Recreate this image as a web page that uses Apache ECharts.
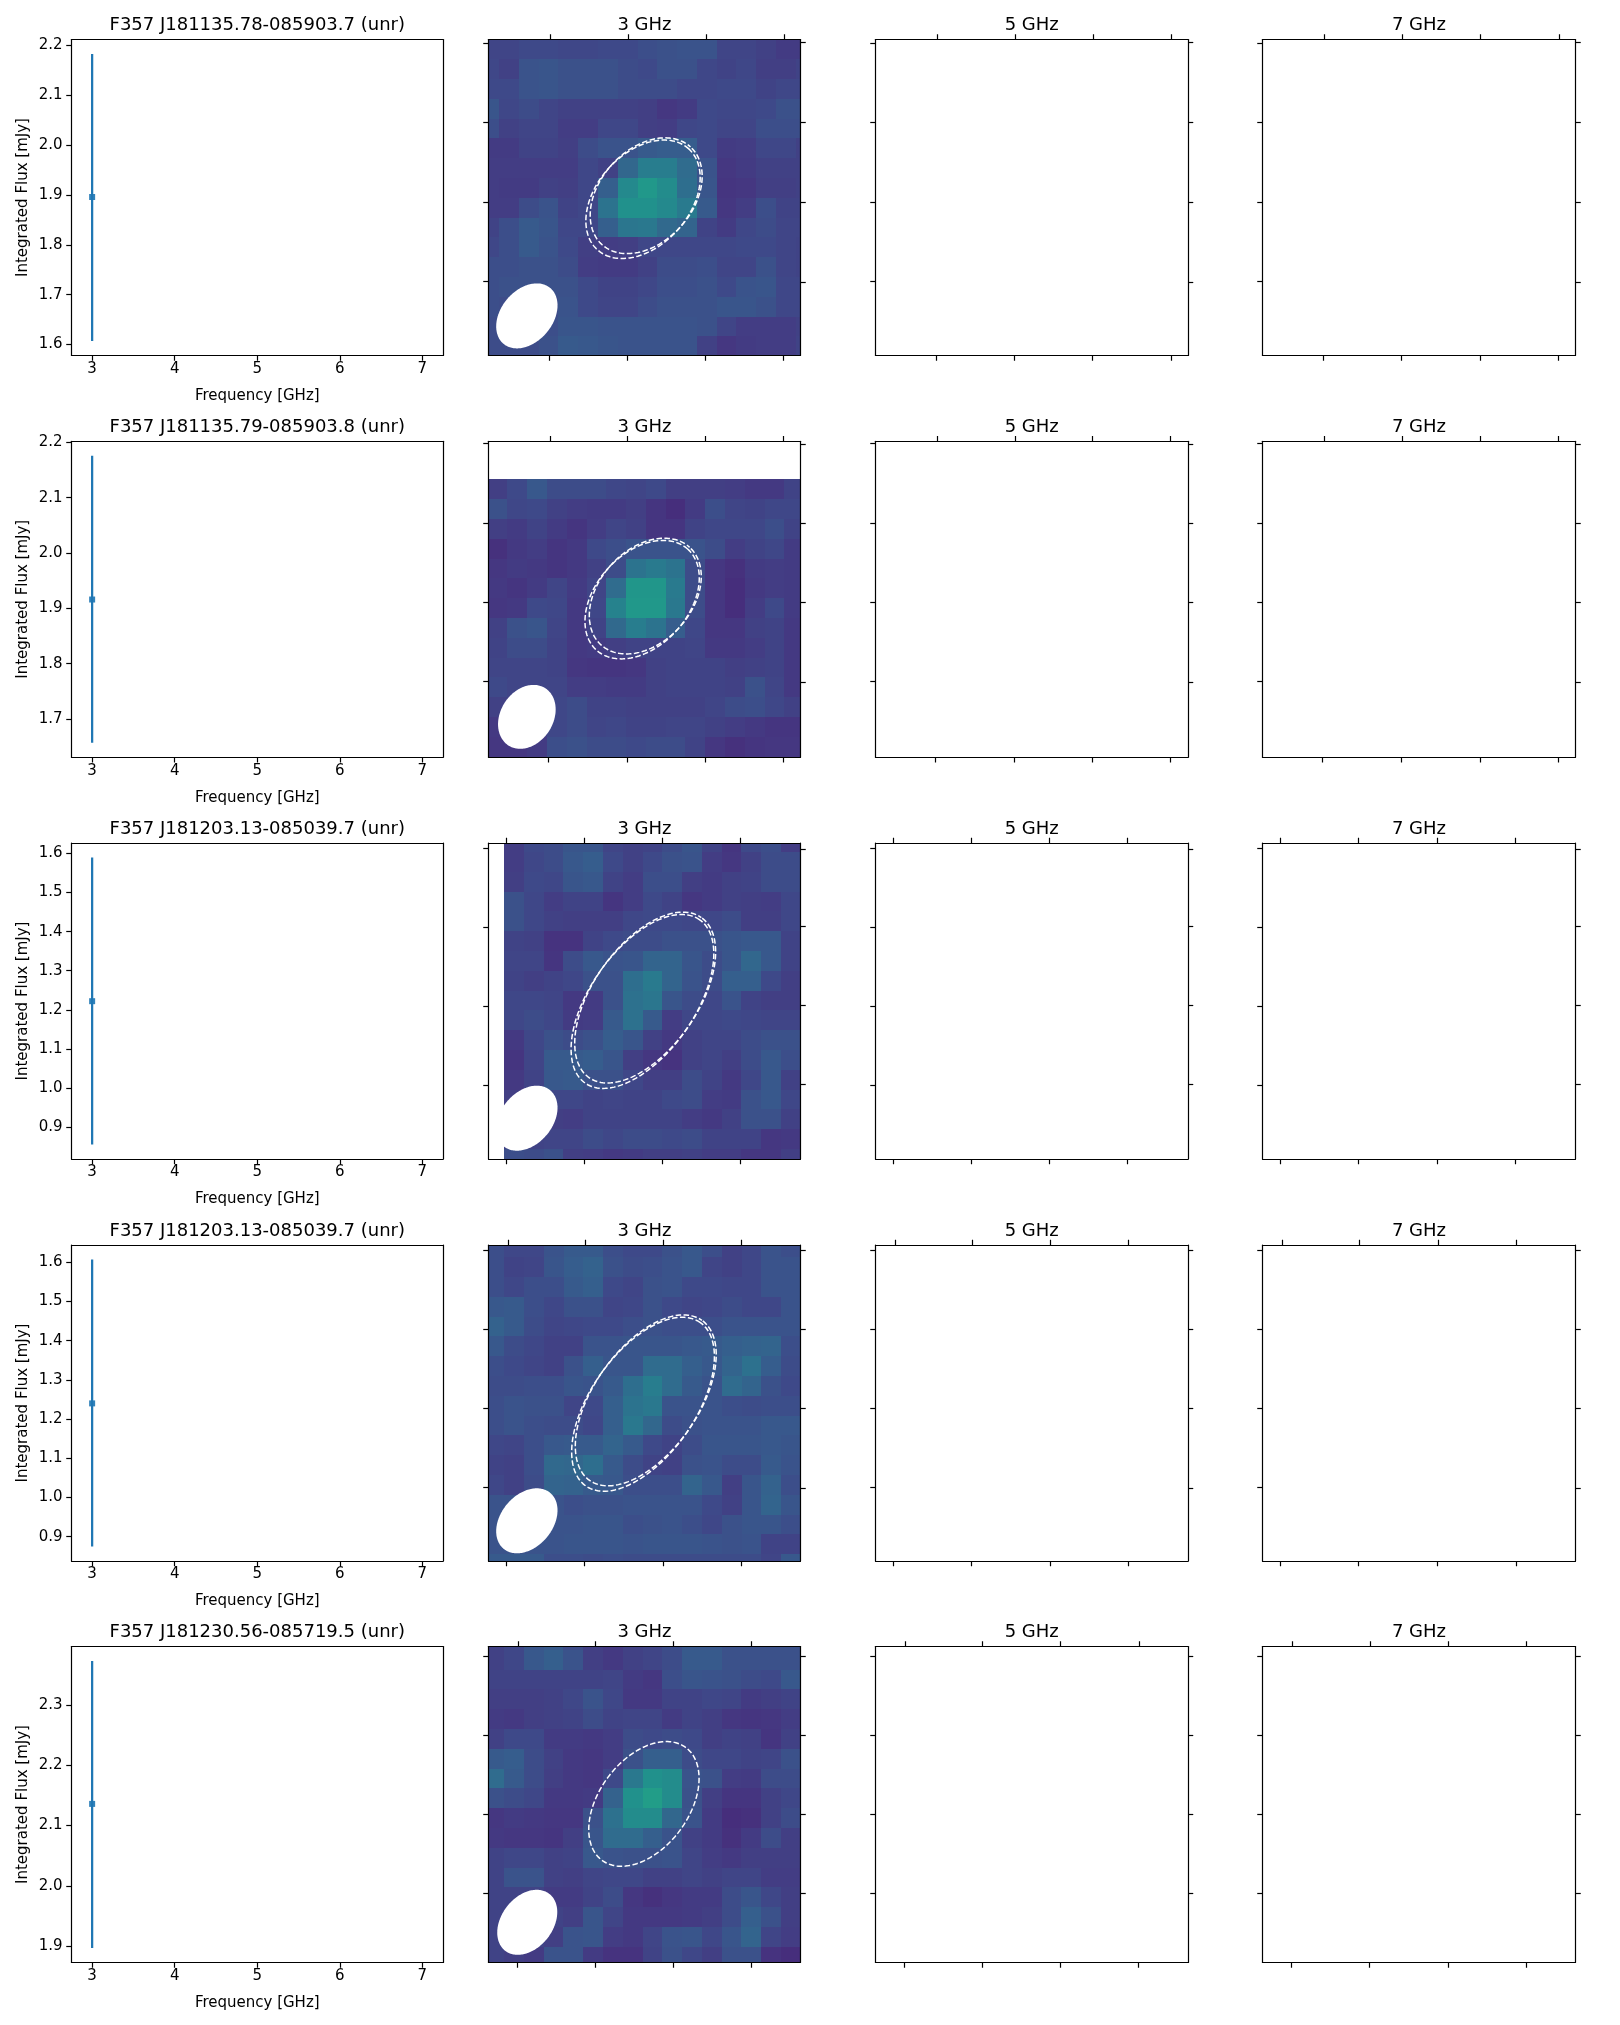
<!DOCTYPE html>
<html><head><meta charset="utf-8">
<style>html,body{margin:0;padding:0;background:#fff}#c{width:1620px;height:2025px}</style>
<script src="https://cdn.jsdelivr.net/npm/echarts@6/dist/echarts.min.js"></script>
</head><body><div id="c"></div>
<script>
const sourceTitles = ['F357 J181135.78-085903.7 (unr)','F357 J181135.79-085903.8 (unr)','F357 J181203.13-085039.7 (unr)','F357 J181203.13-085039.7 (unr)','F357 J181230.56-085719.5 (unr)'];
const bandTitles = ['3 GHz','5 GHz','7 GHz'];
const frequency = 3;
const fluxValue = [1.896,1.916,1.222,1.240,2.136];
const fluxLow   = [1.607,1.657,0.855,0.875,1.897];
const fluxHigh  = [2.183,2.176,1.590,1.607,2.373];
const yLimLow   = [1.578,1.631,0.818,0.838,1.873];
const yLimHigh  = [2.212,2.202,1.627,1.644,2.397];
const yTickLabels = [[1.6,1.7,1.8,1.9,2.0,2.1,2.2],[1.7,1.8,1.9,2.0,2.1,2.2],[0.9,1.0,1.1,1.2,1.3,1.4,1.5,1.6],[0.9,1.0,1.1,1.2,1.3,1.4,1.5,1.6],[1.9,2.0,2.1,2.2,2.3]];
const xTickLabels = [3,4,5,6,7];

// cut-out images, brightness estimate, top row first
const image1 = [
[19,19,21,21,20,20,21,21,23,24,25,25,19,19,17,14,14],
[20,17,25,26,24,24,24,22,21,24,24,20,18,20,16,16,18],
[21,21,25,26,24,24,24,22,22,22,20,20,21,21,18,20,20],
[26,20,22,19,17,17,17,17,16,12,14,21,20,20,21,24,24],
[23,17,19,19,15,15,20,20,16,15,20,21,19,19,23,23,23],
[14,14,18,18,16,22,25,25,28,29,29,21,14,15,20,20,17],
[15,15,15,15,15,20,17,33,42,42,35,25,12,14,17,17,17],
[15,14,14,17,16,20,30,47,53,48,36,26,11,12,16,16,17],
[15,15,22,25,18,20,38,50,50,47,41,28,12,15,23,18,18],
[18,23,28,26,20,20,30,39,40,34,32,18,14,20,22,19,19],
[20,23,28,25,21,16,15,16,20,20,20,20,20,21,21,19,18],
[23,23,24,24,22,15,14,14,17,22,22,23,19,19,24,19,18],
[23,24,24,24,24,21,18,18,20,23,23,24,21,25,26,20,20],
[23,22,22,22,25,21,19,19,22,24,24,24,26,26,24,20,20],
[22,22,22,23,26,26,25,25,25,25,25,24,19,15,15,15,17],
[22,22,22,24,28,27,26,25,25,25,25,17,12,14,15,15,18]];
const image2 = [
[16,21,27,22,22,22,20,19,21,16,16,16,15,13,13,18],
[24,20,21,17,15,14,14,16,11,8,14,23,19,18,20,20],
[16,14,18,14,11,15,19,17,11,11,18,20,20,20,23,18],
[9,13,15,11,13,21,23,25,25,25,25,22,15,18,20,14],
[12,14,13,11,13,17,22,38,41,38,22,12,9,14,15,14],
[13,11,14,19,14,19,35,52,52,41,22,12,8,13,15,14],
[12,13,21,20,13,20,44,53,53,40,22,12,8,15,21,14],
[17,24,26,19,13,18,34,42,38,29,20,12,12,17,18,13],
[18,22,22,18,13,14,16,18,18,18,19,13,13,15,18,13],
[19,19,19,18,12,11,11,12,17,18,18,18,16,17,18,13],
[21,19,19,19,15,15,14,14,17,18,18,18,17,24,19,13],
[17,17,17,20,22,18,18,17,17,17,17,19,22,23,20,17],
[13,15,17,20,22,19,20,18,18,19,19,17,15,13,11,11],
[12,12,14,23,24,22,22,21,22,22,18,12,9,11,12,12]];
const image3 = [
[15,21,22,26,26,19,17,18,22,26,18,11,21,23,15],
[15,20,22,27,29,21,17,21,24,25,15,12,17,22,22],
[16,21,20,26,27,18,15,23,23,16,14,17,18,22,22],
[24,20,15,18,18,11,15,21,18,12,14,17,16,15,20],
[24,20,17,16,16,16,20,21,21,20,20,22,16,16,20],
[18,17,10,10,18,21,22,22,24,24,24,26,27,27,18],
[19,19,11,22,27,25,26,32,32,26,22,26,33,27,18],
[18,16,18,20,24,24,36,41,32,25,22,30,30,21,16],
[20,20,19,13,14,24,37,39,26,22,20,25,18,16,16],
[20,22,20,14,15,28,37,28,15,20,20,21,20,19,19],
[13,20,24,22,24,29,26,17,13,17,19,19,22,24,24],
[11,19,28,28,29,26,16,12,10,17,19,16,22,27,23],
[13,18,27,28,24,24,20,16,16,22,18,13,20,27,17],
[16,20,20,20,18,19,18,18,21,22,15,14,24,27,20],
[18,16,16,15,18,18,18,18,18,15,13,17,24,24,17],
[18,18,19,19,22,20,22,22,21,22,18,18,18,12,13],
[23,22,24,16,15,13,14,16,16,17,15,15,12,12,16]];
const image4 = [
[23,20,20,25,28,28,23,21,21,24,27,23,17,20,25,23],
[23,18,19,26,29,31,24,22,23,25,27,19,17,20,25,25],
[23,20,23,23,28,30,21,19,24,25,21,21,20,20,25,25],
[27,28,23,20,24,24,19,20,24,21,19,20,22,20,20,25],
[31,28,22,19,20,21,21,23,24,23,23,23,25,25,25,25],
[27,22,20,17,17,25,25,26,26,26,27,28,30,31,32,23],
[23,21,19,17,24,30,26,26,35,35,30,27,32,37,29,22],
[22,22,23,23,26,25,28,36,42,35,28,25,35,32,24,21],
[23,25,24,24,19,21,30,38,40,25,25,25,23,22,23,23],
[23,25,23,22,22,20,30,40,33,22,24,25,25,25,27,27],
[20,19,23,27,28,28,32,28,21,18,22,26,26,26,27,26],
[18,17,23,34,33,36,28,22,18,17,24,25,22,22,28,25],
[20,17,22,32,31,28,27,23,23,23,32,27,16,26,31,23],
[25,25,25,25,23,24,24,25,25,25,25,21,17,26,32,26],
[25,25,24,25,25,26,26,23,24,25,23,20,24,26,26,23],
[25,25,25,25,26,26,26,25,26,26,26,25,24,25,18,18],
[28,28,28,23,23,22,23,22,22,22,22,22,22,22,19,27]];
const image5 = [
[17,20,26,28,22,16,13,17,19,23,27,27,24,24,24,24],
[17,20,27,30,25,16,13,17,19,22,28,28,24,24,24,24],
[18,18,18,18,18,18,19,14,12,23,26,25,24,22,21,27],
[16,16,16,17,20,25,20,13,13,18,18,20,19,14,16,18],
[14,13,16,17,18,22,18,19,19,14,18,16,12,11,12,15],
[17,21,21,14,14,13,15,22,21,22,21,16,18,17,11,17],
[28,29,22,17,13,12,15,24,30,30,22,20,20,18,19,24],
[35,28,22,16,13,12,21,40,50,48,25,24,15,14,22,22],
[24,22,20,13,13,14,31,50,55,48,24,16,11,11,17,20],
[12,14,13,12,12,24,37,48,48,33,25,14,8,9,17,22],
[13,12,12,11,16,26,35,35,30,25,17,14,9,14,22,16],
[18,20,20,17,18,27,25,24,24,25,19,15,13,16,16,16],
[18,25,25,17,16,19,20,20,17,17,19,17,19,19,15,15],
[18,18,18,14,14,18,22,12,9,12,14,14,22,26,20,16],
[18,18,18,18,16,26,19,13,13,13,14,16,22,30,24,16],
[18,18,19,16,25,26,15,13,19,25,26,20,26,32,19,15],
[18,16,14,25,25,14,10,10,18,24,20,16,24,24,10,8]];
const images = [image1,image2,image3,image4,image5];
const imageColStart = [-0.46,-0.04,0.79,-0.2,-0.21];
const imageRowStart = [0,1.93,-0.545,-0.38,-0.83];

// source apertures and beams: centre x, centre y, semi-major, semi-minor, angle (image cells)
const apertures = [
 [[7.815,8.07,3.44,2.34,47.7],[7.975,7.89,3.33,2.34,47.7]],
 [[7.77,8.00,3.44,2.34,47.7],[7.93,7.82,3.33,2.34,47.7]],
 [[7.786,8.003,5.04,2.63,54.9],[7.924,7.807,4.94,2.63,54.9]],
 [[7.816,8.043,5.04,2.63,54.9],[7.954,7.847,4.94,2.63,54.9]],
 [[7.86,7.95,3.55,2.26,53.3]]];
const beams = [[1.94,13.96,1.84,1.31,50],[1.94,13.92,1.72,1.33,57],[1.94,13.90,1.84,1.31,50],[1.94,13.93,1.84,1.31,50],[1.96,13.93,1.82,1.30,52]];

const ticksTop    = [[3.13,7.07,11.0,14.95],[3.10,7.04,10.96,14.9],[0.91,4.85,8.79,12.73],[0.98,4.90,8.84,12.78],[1.48,5.41,9.35,13.30]];
const ticksBottom = [[3.08,7.02,10.96,14.93],[3.03,7.00,10.96,14.9],[0.91,4.85,8.79,12.73],[0.91,4.85,8.82,12.78],[1.46,5.40,9.34,13.28]];
const ticksLeft   = [[0.17,4.19,8.20,12.2],[0.12,4.12,8.11,12.12],[0.25,4.26,8.25,12.24],[0.27,4.26,8.25,12.24],[0.47,4.48,8.45,12.46]];
const ticksRight  = [[0.15,4.19,8.21,12.24],[0.13,4.14,8.15,12.15],[0.30,4.22,8.20,12.19],[0.27,4.26,8.25,12.29],[0.47,4.48,8.45,12.46]];

// colour ramp: violet through blue to teal and on along viridis
const imageRamp = ['#471c6e','#46337f','#3f4788','#355f8d','#2a788e','#21918c','#22a884','#44bf70','#7ad151','#bddf26','#fde725'];

const FONT = '"DejaVu Sans"';
const colLeft = [71.5,488.5,875.5,1262.5];
const colWidth = [371.5,312,312.5,313];
const rowTop = [39.5,441.25,843,1245,1646.5];
const rowHeight = 316;
const imgW = 15.78, imgH = 15.96;
const DASH = [5.55,2.4];
const spine = {show:true,onZero:false,lineStyle:{color:'#000',width:1.2}};
const tickStyle = {lineStyle:{color:'#000',width:1.2},length:5.25,inside:false};

const grids=[],xAxes=[],yAxes=[],series=[],titles=[],heatSeries=[];

function plainAxis(gridIndex,position,min,max,values){
  return {type:'value',gridIndex,position,min,max,z:5,silent:true,splitLine:{show:false},
    axisLine:spine,axisLabel:{show:false},
    axisTick:values?Object.assign({show:true,customValues:values},tickStyle):{show:false}};
}
function ellipsePoints(api,p){
  const pts=[],t=p[4]*Math.PI/180;
  for(let k=0;k<=180;k++){
    const u=k/180*2*Math.PI,ca=p[2]*Math.cos(u),cb=p[3]*Math.sin(u);
    pts.push(api.coord([p[0]+ca*Math.cos(t)-cb*Math.sin(t),p[1]-ca*Math.sin(t)-cb*Math.cos(t)]));
  }
  return pts;
}
for(let r=0;r<5;r++){
  for(let c=0;c<4;c++){
    const g=grids.length;
    grids.push({left:colLeft[c],top:rowTop[r],width:colWidth[c],height:rowHeight,containLabel:false});
    titles.push({text:c===0?sourceTitles[r]:bandTitles[c-1],left:colLeft[c]+colWidth[c]/2,top:rowTop[r]-23,padding:0,textAlign:'center',
      textStyle:{fontFamily:FONT,fontSize:18,fontWeight:'normal',color:'#000'}});
    if(c===0){
      xAxes.push(Object.assign(plainAxis(g,'bottom',2.75,7.25,xTickLabels),{
        name:'Frequency [GHz]',nameLocation:'middle',nameGap:33,nameTextStyle:{fontFamily:FONT,fontSize:15,color:'#000'},
        axisLabel:{show:true,customValues:xTickLabels,formatter:v=>String(v),margin:6,fontFamily:FONT,fontSize:15,color:'#000'}}));
      xAxes.push(plainAxis(g,'top',2.75,7.25,null));
      yAxes.push(Object.assign(plainAxis(g,'left',yLimLow[r],yLimHigh[r],yTickLabels[r]),{
        name:'Integrated Flux [mJy]',nameLocation:'middle',nameGap:41,nameTextStyle:{fontFamily:FONT,fontSize:15,color:'#000'},
        axisLabel:{show:true,customValues:yTickLabels[r],formatter:v=>v.toFixed(1),margin:9,padding:[2,0,0,0],fontFamily:FONT,fontSize:15,color:'#000'}}));
      yAxes.push(plainAxis(g,'right',yLimLow[r],yLimHigh[r],null));
      const xi=xAxes.length-2,yi=yAxes.length-2;
      series.push({type:'custom',xAxisIndex:xi,yAxisIndex:yi,silent:true,z:3,
        data:[[frequency,fluxLow[r],fluxHigh[r]]],encode:{x:0,y:[1,2]},
        renderItem:(p,api)=>{const a=api.coord([api.value(0),api.value(1)]),b=api.coord([api.value(0),api.value(2)]);
          return {type:'line',shape:{x1:a[0],y1:a[1],x2:b[0],y2:b[1]},style:{stroke:'#1f77b4',lineWidth:2.25}};}});
      series.push({type:'scatter',xAxisIndex:xi,yAxisIndex:yi,silent:true,z:4,symbol:'rect',symbolSize:6,
        itemStyle:{color:'#1f77b4',opacity:0.92},data:[[frequency,fluxValue[r]]]});
    } else {
      xAxes.push(plainAxis(g,'bottom',0,imgW,ticksBottom[r]));
      xAxes.push(plainAxis(g,'top',0,imgW,ticksTop[r]));
      yAxes.push(Object.assign(plainAxis(g,'left',0,imgH,ticksLeft[r]),{inverse:true}));
      yAxes.push(Object.assign(plainAxis(g,'right',0,imgH,ticksRight[r]),{inverse:true}));
    }
    if(c===1){
      const xi=xAxes.length-2,yi=yAxes.length-2;
      const cells=[];
      images[r].forEach((row,j)=>row.forEach((v,i)=>cells.push([imageColStart[r]+i,imageRowStart[r]+j,v])));
      heatSeries.push(series.length);
      series.push({type:'custom',xAxisIndex:xi,yAxisIndex:yi,silent:true,clip:true,z:2,data:cells,
        encode:{x:0,y:1},dimensions:['x','y','v'],
        renderItem:(p,api)=>{
          const a=api.coord([api.value(0),api.value(1)]),b=api.coord([api.value(0)+1,api.value(1)+1]);
          const x=Math.round(a[0]),y=Math.round(a[1]);
          return {type:'rect',shape:{x,y,width:Math.round(b[0])-x,height:Math.round(b[1])-y},style:{fill:api.visual('color')}};
        }});
      const shapes=(list,styler)=>({type:'custom',xAxisIndex:xi,yAxisIndex:yi,silent:true,clip:true,z:3,data:list,
        encode:{x:0,y:1},
        renderItem:(p,api)=>{
          const e=[0,1,2,3,4].map(k=>api.value(k));
          return Object.assign({type:'polygon',shape:{points:ellipsePoints(api,e)}},styler(p.dataIndex));
        }});
      series.push(shapes([beams[r]],()=>({style:{fill:'#fff',stroke:null}})));
      series.push(shapes(apertures[r],i=>({style:{fill:null,stroke:'#fff',lineWidth:1.5,lineDash:DASH,lineDashOffset:i?0.25*(DASH[0]+DASH[1]):0}})));
    }
  }
}
const chart=echarts.init(document.getElementById('c'),null,{renderer:'canvas',width:1620,height:2025});
chart.setOption({animation:false,backgroundColor:'#fff',title:titles,grid:grids,xAxis:xAxes,yAxis:yAxes,series,
  visualMap:{show:false,type:'continuous',min:0,max:100,dimension:2,seriesIndex:heatSeries,inRange:{color:imageRamp}}});
</script></body></html>
